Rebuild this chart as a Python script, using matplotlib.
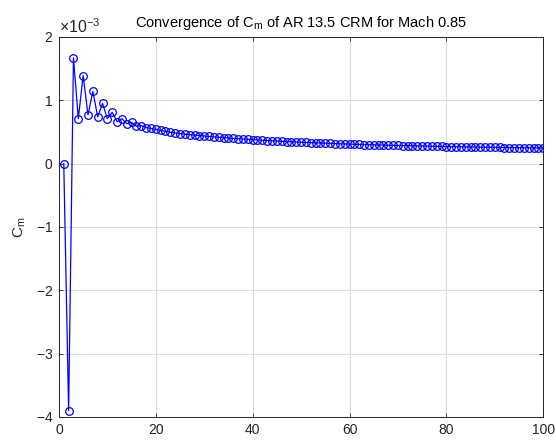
import matplotlib
matplotlib.use("Agg")
import matplotlib.pyplot as plt
from matplotlib.ticker import ScalarFormatter
import numpy as np

plt.rcParams['font.family'] = ['Liberation Sans', 'DejaVu Sans']
plt.rcParams['axes.unicode_minus'] = False
plt.rcParams['mathtext.fontset'] = 'custom'
plt.rcParams['mathtext.rm'] = 'Liberation Sans'
plt.rcParams['mathtext.it'] = 'Liberation Sans'

# Iteration index and moment coefficient (scaled by 1e-3 below)
iterations = list(range(1, 101))
cm_e3 = [
    0.00, -3.90, 1.67, 0.71, 1.39, 0.77, 1.14, 0.74, 0.95, 0.71,
    0.81, 0.66, 0.71, 0.63, 0.65, 0.59, 0.60, 0.57, 0.555, 0.54,
    0.525, 0.51, 0.495, 0.485, 0.475, 0.465, 0.458, 0.45, 0.443, 0.436,
    0.429, 0.422, 0.416, 0.410, 0.404, 0.398, 0.393, 0.388, 0.383, 0.378,
    0.373, 0.368, 0.364, 0.360, 0.356, 0.352, 0.348, 0.344, 0.340, 0.337,
    0.334, 0.331, 0.328, 0.325, 0.322, 0.319, 0.316, 0.313, 0.310, 0.308,
    0.305, 0.303, 0.300, 0.298, 0.296, 0.294, 0.292, 0.290, 0.288, 0.286,
    0.284, 0.283, 0.281, 0.279, 0.278, 0.276, 0.274, 0.273, 0.271, 0.270,
    0.268, 0.267, 0.265, 0.264, 0.263, 0.261, 0.260, 0.259, 0.258, 0.256,
    0.255, 0.254, 0.253, 0.252, 0.251, 0.250, 0.249, 0.248, 0.247, 0.246,
]
cm = np.array(cm_e3) * 1e-3

x_ticks = [0, 20, 40, 60, 80, 100]
y_ticks = [-4e-3, -3e-3, -2e-3, -1e-3, 0, 1e-3, 2e-3]

fig = plt.figure(figsize=(5.56, 4.45), dpi=100)
ax = fig.add_axes([0.106, 0.063, 0.871, 0.854])

ax.plot(iterations, cm, '-o', color='blue', linewidth=0.9,
        markersize=5.5, markerfacecolor='none', markeredgewidth=0.9)

ax.set_xlim(0, 100)
ax.set_ylim(-4e-3, 2e-3)
ax.set_xticks(x_ticks)
ax.set_yticks(y_ticks)

fmt = ScalarFormatter(useMathText=True)
fmt.set_powerlimits((-2, 2))
ax.yaxis.set_major_formatter(fmt)
ax.yaxis.get_offset_text().set_fontsize(11.5)
ax.yaxis.get_offset_text().set_color('#262626')

ax.grid(True, color='#dcdcdc', linewidth=0.8)
ax.set_axisbelow(True)
ax.tick_params(direction='in', top=True, right=True, labelsize=10,
               colors='#262626', length=3, width=0.6, pad=4)
for s in ax.spines.values():
    s.set_color('#262626')
    s.set_linewidth(0.7)

ax.set_ylabel(r'C$_\mathregular{m}$', fontsize=11, color='#262626', labelpad=6)
ax.set_title(r'Convergence of C$_\mathregular{m}$ of AR 13.5 CRM for Mach 0.85',
             fontsize=10.5, color='black', pad=7)

fig.savefig('out.png', dpi=100)
